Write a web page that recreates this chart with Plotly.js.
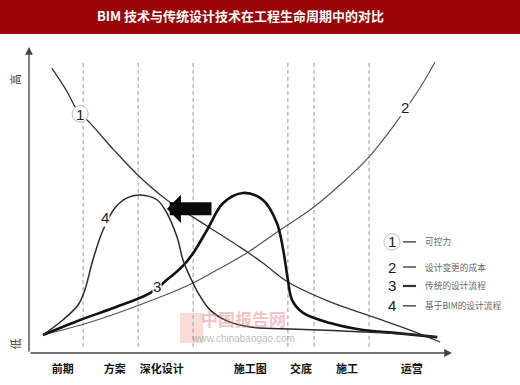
<!DOCTYPE html>
<html><head><meta charset="utf-8">
<script src="https://cdn.plot.ly/plotly-3.0.1.min.js"></script>
<style>html,body{margin:0;padding:0;background:#fff}#chart{width:520px;height:385px}</style>
</head><body><div id="chart"></div>
<script>
// ---- data (x: lifecycle position 0-100, y: level 0-100) ----
const phases = ['前期', '方案', '深化设计', '施工图', '交底', '施工', '运营'];
const phasePos = [8.0, 20.3, 31.4, 52.3, 64.3, 75.2, 90.5];
const boundaryPos = [12.8, 25.8, 38.8, 61.2, 67.4, 80.4];

const c1x = [5.4, 8.8, 11.4, 14.4, 20.1, 26.2, 32.6, 38.8, 49.9, 55.3, 61.2, 71.2, 81.3, 90.1, 97.2];
const c1y = [93.1, 85.9, 79.4, 75.2, 66.3, 57.5, 50.0, 44.4, 34.6, 29.4, 23.2, 16.7, 11.8, 7.5, 3.6];

const c2x = [3.3, 16.1, 31.0, 38.8, 44.4, 51.5, 58.6, 66.4, 73.5, 80.4, 86.5, 92.4, 96.0];
const c2y = [5.9, 10.8, 18.3, 22.9, 27.1, 32.7, 39.5, 46.7, 54.9, 64.1, 74.8, 86.6, 95.1];

const c3x = [3.3, 12.1, 19.9, 28.6, 32.6, 36.4, 38.8, 42.1, 45.9, 50.6, 55.3, 58.6, 60.1, 61.2, 62.2, 64.8, 71.2, 79.0, 87.0, 96.5];
const c3y = [5.9, 10.8, 14.7, 19.6, 23.9, 28.5, 32.6, 40.2, 49.0, 52.3, 50.0, 42.5, 33.7, 23.9, 17.3, 13.1, 9.8, 7.5, 6.5, 5.2];

const c4x = [3.3, 8.0, 11.6, 13.2, 15.1, 17.5, 20.3, 23.2, 26.2, 30.3, 32.2, 35.0, 36.4, 38.1, 40.0, 42.8, 46.8, 52.3, 63.4, 79.0, 91.7, 96.5];
const c4y = [5.9, 10.8, 15.7, 20.6, 30.4, 40.2, 47.4, 50.7, 51.6, 50.0, 46.7, 37.9, 30.4, 24.8, 19.6, 14.1, 10.5, 8.5, 7.8, 6.9, 5.9, 5.2];

const seriesIds = ['1', '2', '3', '4'];
const seriesNames = ['可控力', '设计变更的成本', '传统的设计流程', '基于BIM的设计流程'];
const labelX = [12.1, 88.9, 30.3, 18.0];
const labelY = [78.1, 80.1, 21.6, 44.4];
const legendY = [36.3, 28.1, 21.9, 15.4];

const chartTitle = 'BIM 技术与传统设计技术在工程生命周期中的对比';
const highLabel = '高', lowLabel = '低';

// ---- styles ----
const lineColors = ['#333', '#555', '#111', '#2a2a2a'];
const lineWidths = [1.3, 1.2, 2.6, 1.5];
const xs = [c1x, c2x, c3x, c4x], ys = [c1y, c2y, c3y, c4y];

const traces = xs.map((x, i) => ({
  x: x, y: ys[i], type: 'scatter', mode: 'lines', name: seriesNames[i],
  line: {color: lineColors[i], width: lineWidths[i], shape: 'spline', smoothing: 1},
  hoverinfo: 'skip', showlegend: false
}));

const cjk = '"Noto Sans CJK SC", "Noto Sans", sans-serif';
const shapes = [];
// title bar
shapes.push({type: 'rect', xref: 'paper', yref: 'paper', x0: -0.07, x1: 1.17, y0: 1.0425, y1: 1.16,
  fillcolor: '#9a0608', line: {width: 0}, layer: 'below'});
// phase boundaries
boundaryPos.forEach(b => shapes.push({type: 'line', xref: 'x', yref: 'y', x0: b, x1: b, y0: 2.0, y1: 95.1,
  line: {color: '#9a9a9a', width: 1, dash: '4px,3px'}, layer: 'below'}));
// circle around label 1 and legend 1
shapes.push({type: 'circle', xref: 'x', yref: 'y', x0: labelX[0] - 1.9, x1: labelX[0] + 1.9, y0: labelY[0] - 2.7, y1: labelY[0] + 2.7,
  fillcolor: '#fff', line: {color: '#bbb', width: 1}, layer: 'above'});
shapes.push({type: 'circle', xref: 'x', yref: 'y', x0: 85.8 - 1.9, x1: 85.8 + 1.9, y0: legendY[0] - 2.7, y1: legendY[0] + 2.7,
  fillcolor: 'rgba(0,0,0,0)', line: {color: '#c4c4c4', width: 1}});
// legend dashes
legendY.forEach((ly, i) => shapes.push({type: 'line', xref: 'x', yref: 'y', x0: 88.4, x1: 91.5, y0: ly, y1: ly,
  line: {color: '#333', width: i === 2 ? 2.2 : 1.3}}));
// watermark logo block
shapes.push({type: 'rect', xref: 'x', yref: 'y', x0: 35.7, x1: 41.2, y0: 3.3, y1: 13.1,
  fillcolor: 'rgba(235,130,120,0.28)', line: {width: 0}, layer: 'below'});

const annotations = [];
// axes arrows
annotations.push({x: 100, y: 0, ax: 0, ay: 0, xref: 'x', yref: 'y', axref: 'x', ayref: 'y', showarrow: true,
  arrowhead: 2, arrowsize: 1.2, arrowwidth: 1.3, arrowcolor: '#444', text: ''});
annotations.push({x: 0, y: 100, ax: 0, ay: 0, xref: 'x', yref: 'y', axref: 'x', ayref: 'y', showarrow: true,
  arrowhead: 2, arrowsize: 1.2, arrowwidth: 1.3, arrowcolor: '#444', text: ''});
// block arrow
annotations.push({x: 32.6, y: 47.1, ax: 43.5, ay: 47.1, xref: 'x', yref: 'y', axref: 'x', ayref: 'y', showarrow: true,
  arrowhead: 1, arrowsize: 0.36, arrowwidth: 13, arrowcolor: '#0a0a0a', text: ''});
// high / low
annotations.push({x: -0.033, y: 0.892, xref: 'paper', yref: 'paper', xanchor: 'center', yanchor: 'middle', text: highLabel, showarrow: false, textangle: -90,
  font: {family: cjk, size: 11, color: '#444'}});
annotations.push({x: -0.033, y: 0.029, xref: 'paper', yref: 'paper', xanchor: 'center', yanchor: 'middle', text: lowLabel, showarrow: false, textangle: -90,
  font: {family: cjk, size: 11, color: '#444'}});
// curve labels
seriesIds.forEach((id, i) => annotations.push({x: labelX[i], y: labelY[i], xref: 'x', yref: 'y', text: id, showarrow: false,
  bgcolor: i === 0 ? 'rgba(0,0,0,0)' : '#fff', borderpad: 0,
  font: {family: 'Liberation Sans, Arial, sans-serif', size: 15, color: '#1a1a1a'}}));
// legend
seriesIds.forEach((id, i) => {
  annotations.push({x: 85.8, y: legendY[i], xref: 'x', yref: 'y', text: id, showarrow: false,
    font: {family: 'Liberation Sans, Arial, sans-serif', size: 15, color: '#1a1a1a'}});
  annotations.push({x: 93.1, y: legendY[i], xref: 'x', yref: 'y', xanchor: 'left', text: seriesNames[i], showarrow: false,
    font: {family: cjk, size: 8.7, color: '#666'}});
});
// watermark text
annotations.push({x: 50.7, y: 11.2, xref: 'x', yref: 'y', text: '<b>中国报告网</b>', showarrow: false,
  font: {family: cjk, size: 17, color: 'rgba(230,120,115,0.45)'}});
annotations.push({x: 50.5, y: 4.6, xref: 'x', yref: 'y', text: 'www.chinabaogao.com', showarrow: false,
  font: {family: 'Liberation Sans, Arial, sans-serif', size: 10, color: 'rgba(140,140,140,0.6)'}});

const layout = {
  width: 520, height: 385, autosize: false,
  margin: {l: 29, r: 68, t: 47, b: 32, pad: 0},
  paper_bgcolor: '#fff', plot_bgcolor: 'rgba(0,0,0,0)',
  title: {text: '<b>' + chartTitle + '</b>', x: 0.5, xref: 'paper', xanchor: 'center', y: 1 - 16 / 385, yref: 'container', yanchor: 'middle',
    font: {family: cjk, size: 13, color: '#fff'}},
  xaxis: {range: [0, 100], showgrid: false, zeroline: false, showline: false, ticks: '',
    tickmode: 'array', tickvals: phasePos, ticktext: phases, ticklabelstandoff: 8,
    tickfont: {family: cjk, size: 11, color: '#111', weight: 'bold'}, fixedrange: true},
  yaxis: {range: [0, 100], showgrid: false, zeroline: false, showline: false, showticklabels: false, ticks: '', fixedrange: true},
  shapes: shapes, annotations: annotations, showlegend: false
};

Plotly.newPlot('chart', traces, layout, {staticPlot: true, displayModeBar: false});
</script></body></html>
